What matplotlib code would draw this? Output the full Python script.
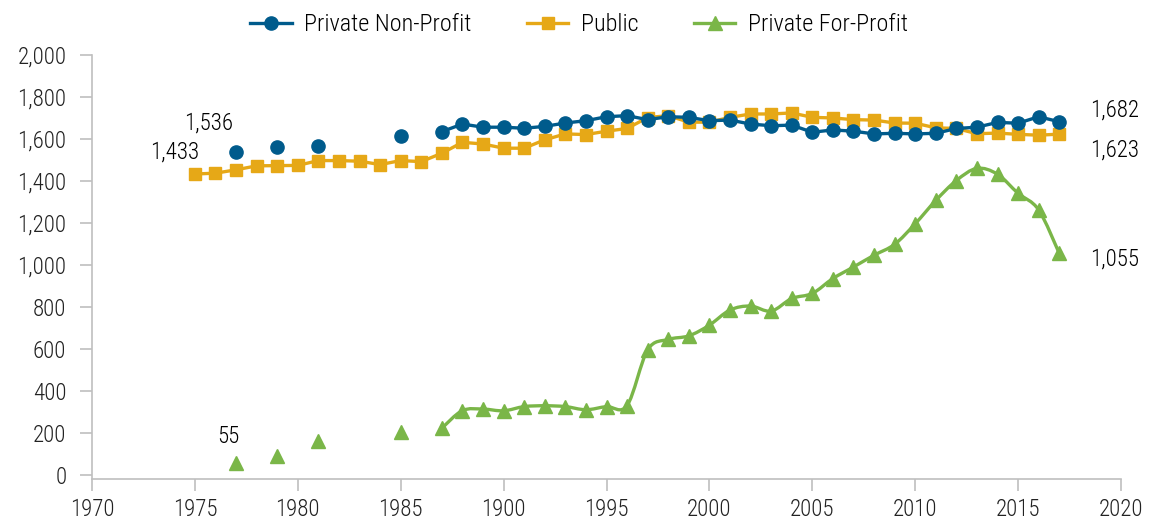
import numpy as np
import matplotlib
matplotlib.use("Agg")
import matplotlib.pyplot as plt
from matplotlib import font_manager as fm
from matplotlib.lines import Line2D
from matplotlib.path import Path
from matplotlib.patches import PathPatch

# pick a narrow sans if one is installed, the original uses a condensed face
fonts = fm.fontManager.ttflist
names = {f.name for f in fonts}
stretch = 'normal'
if 'Roboto Condensed' in names:
    family = 'Roboto Condensed'
elif 'Liberation Sans Narrow' in names:
    family = 'Liberation Sans Narrow'
elif any(f.name == 'DejaVu Sans' and f.stretch in ('condensed', 'semi-condensed') for f in fonts):
    family = 'DejaVu Sans'
    stretch = 'condensed'
else:
    family = 'Liberation Sans'
plt.rcParams['font.family'] = [family, 'DejaVu Sans']
plt.rcParams['font.stretch'] = stretch
plt.rcParams['font.weight'] = 'light'

# data (enrollment-like counts per year)
years = list(range(1975, 2018))
nan = float('nan')

public = [1433, 1437, 1453, 1472, 1473, 1474, 1497, 1497, 1494, 1478,
          1497, 1492, 1532, 1584, 1576, 1556, 1556, 1596, 1624, 1621,
          1637, 1650, 1702, 1711, 1680, 1680, 1703, 1719, 1719, 1724,
          1703, 1700, 1692, 1690, 1676, 1675, 1653, 1650, 1625, 1628,
          1622, 1618, 1623]

non_profit = [nan, nan, 1536, nan, 1561, nan, 1568, nan, nan, nan,
              1613, nan, 1635, 1671, 1656, 1656, 1651, 1660, 1676, 1687,
              1706, 1711, 1692, 1706, 1703, 1687, 1690, 1671, 1663, 1666,
              1632, 1643, 1637, 1624, 1627, 1624, 1627, 1650, 1656, 1679,
              1675, 1706, 1682]

for_profit = [nan, nan, 55, nan, 88, nan, 160, nan, nan, nan,
              205, nan, 222, 306, 313, 305, 325, 329, 325, 310,
              325, 330, 595, 645, 662, 713, 785, 804, 780, 840,
              864, 935, 990, 1046, 1098, 1196, 1307, 1402, 1460, 1432,
              1341, 1262, 1055]

# x tick labels as printed on the original (including its "1900")
xticks = [1970, 1975, 1980, 1985, 1990, 1995, 2000, 2005, 2010, 2015, 2020]
xtick_labels = ['1970', '1975', '1980', '1985', '1900', '1995', '2000',
                '2005', '2010', '2015', '2020']
yticks = list(range(0, 2001, 200))

blue = '#005B8C'
orange = '#E6A817'
green = '#7AB648'
grey = '#BFBFBF'


def smooth_path(xs, ys):
    # Catmull-Rom style bezier through the points (like Excel "smoothed line")
    verts = [(xs[0], ys[0])]
    codes = [Path.MOVETO]
    n = len(xs)
    for i in range(n - 1):
        x0, y0 = (xs[i - 1], ys[i - 1]) if i > 0 else (xs[i], ys[i])
        x1, y1 = xs[i], ys[i]
        x2, y2 = xs[i + 1], ys[i + 1]
        x3, y3 = (xs[i + 2], ys[i + 2]) if i + 2 < n else (x2, y2)
        c1 = (x1 + (x2 - x0) / 6, y1 + (y2 - y0) / 6)
        c2 = (x2 - (x3 - x1) / 6, y2 - (y3 - y1) / 6)
        verts += [c1, c2, (x2, y2)]
        codes += [Path.CURVE4] * 3
    return Path(verts, codes)


fig = plt.figure(figsize=(11.5, 5.28), dpi=100)
ax = fig.add_axes([92 / 1150, 1 - 479 / 528, (1121 - 92) / 1150, (479 - 55) / 528])

# public: straight line
ax.plot(years, public, color=orange, lw=2.4, marker='s', ms=8.5, zorder=3)

# non-profit: straight line with gaps
ax.plot(years, non_profit, color=blue, lw=2.4, marker='o', ms=9.5, zorder=4)

# for-profit: smoothed line over the continuous run, markers everywhere
fp = np.array(for_profit, dtype=float)
yr = np.array(years, dtype=float)
start = 1987 - 1975
path = smooth_path(list(yr[start:]), list(fp[start:]))
ax.add_patch(PathPatch(path, facecolor='none', edgecolor=green, lw=2.4, zorder=3))
ax.plot(years, for_profit, color=green, lw=0, marker='^', ms=9.5, zorder=4)

ax.set_xlim(1970, 2020)
ax.set_ylim(-20, 2000)
ax.set_xticks(xticks)
ax.set_xticklabels(xtick_labels)
ax.set_yticks(yticks)
ax.set_yticklabels(['{:,}'.format(v) for v in yticks])

for s in ['top', 'right']:
    ax.spines[s].set_visible(False)
for s in ['left', 'bottom']:
    ax.spines[s].set_color(grey)
    ax.spines[s].set_linewidth(1.2)
ax.tick_params(axis='both', colors=grey, length=8.5, width=1.2, labelsize=16.5,
               labelcolor='#222222')
ax.tick_params(axis='y', pad=10)
ax.tick_params(axis='x', pad=5)

# value labels
ann = dict(textcoords='offset pixels', fontsize=16.5, color='#000000', va='center',
           annotation_clip=False)
ax.annotate('1,433', (1975, 1433), xytext=(4, 22), ha='right', **ann)
ax.annotate('1,536', (1977, 1536), xytext=(-27, 29), ha='center', **ann)
ax.annotate('55', (1977, 55), xytext=(-8, 27), ha='center', **ann)
ax.annotate('1,682', (2017, 1682), xytext=(31, 12), ha='left', **ann)
ax.annotate('1,623', (2017, 1623), xytext=(31, -16), ha='left', **ann)
ax.annotate('1,055', (2017, 1055), xytext=(31, -6), ha='left', **ann)

handles = [
    Line2D([], [], color=blue, lw=2.4, marker='o', ms=9.5),
    Line2D([], [], color=orange, lw=2.4, marker='s', ms=8.5),
    Line2D([], [], color=green, lw=2.4, marker='^', ms=9.5),
]
leg = fig.legend(handles, ['Private Non-Profit', 'Public', 'Private For-Profit'],
                 loc='center', bbox_to_anchor=(0.5 + 4 / 1150, 1 - 25 / 528), ncol=3,
                 frameon=False, fontsize=17.5, handlelength=1.7, handletextpad=0.5,
                 columnspacing=2.3)
for t in leg.get_texts():
    t.set_color('#000000')

plt.savefig('out.png', dpi=100)
